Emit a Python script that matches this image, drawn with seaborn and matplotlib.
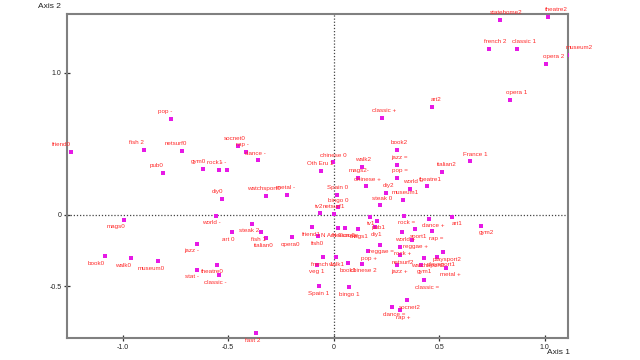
import matplotlib
matplotlib.use("Agg")
import matplotlib.pyplot as plt
import seaborn as sns
import pandas as pd

labels = [
    "statehome2", "theatre2", "french 2", "classic 1", "opera 2", "museum2",
    "opera 1", "art2", "classic +", "pop -", "friend0", "fish 2", "netsurf0",
    "pub0", "gym0", "socnet0", "rap -", "dance -", "rock -", "1 -", "diy0",
    "watchsport0", "metal -", "chinese 0", "Oth Eru 1", "walk2", "mags2-",
    "chinese +", "diy2", "book2", "jazz =", "pop =", "world =", "theatre1",
    "italian2", "France 1", "steak 0", "museum1", "Spain 0", "bingo 0", "tv2",
    "netsurf1", "N America 0", "tv1", "pub1", "rock =", "dance +", "art1",
    "gym2", "world +", "sport1", "rap =", "reggae +", "rock +", "reggae =",
    "pop +", "netsurf2", "jazz +", "gym1", "watchsport1", "playsport1",
    "playsport2", "metal +", "classic =", "socnet2", "dance =", "rap +",
    "fast 2", "Spain 1", "bingo 1", "french 1", "walk1", "veg 1", "book1",
    "chinese 2", "mags1", "diy1", "friend1", "N Europe", "opera0", "fish0",
    "mags0", "world -", "book0", "walk0", "museum0", "jazz -", "theatre0",
    "classic -", "stat -", "steak 2", "fish 1", "art 0", "italian0",
]
axis1 = [
    0.788, 1.016, 0.736, 0.869, 1.006, 1.120,
    0.836, 0.466, 0.229, -0.771, -1.245, -0.899, -0.719,
    -0.809, -0.619, -0.454, -0.416, -0.359, -0.544, -0.506, -0.529,
    -0.321, -0.221, -0.003, -0.060, 0.134, 0.115,
    0.153, 0.248, 0.300, 0.300, 0.300, 0.362, 0.442,
    0.513, 0.646, 0.219, 0.328, 0.016, 0.020, -0.065,
    0.001, 0.020, 0.172, 0.205, 0.333, 0.452, 0.561,
    0.698, 0.324, 0.385, 0.466, 0.371, 0.314, 0.219,
    0.163, 0.316, 0.300, 0.414, 0.428, 0.490,
    0.518, 0.532, 0.428, 0.347, 0.276, 0.316,
    -0.368, -0.070, 0.073, -0.051, 0.012, -0.078, 0.068,
    0.134, 0.115, 0.196, -0.103, 0.054, -0.197, -0.074,
    -0.993, -0.557, -1.083, -0.960, -0.833, -0.647, -0.553,
    -0.543, -0.647, -0.386, -0.344, -0.482, -0.321,
]
axis2 = [
    1.373, 1.394, 1.169, 1.169, 1.063, 1.127,
    0.810, 0.761, 0.683, 0.676, 0.444, 0.458, 0.451,
    0.296, 0.324, 0.486, 0.444, 0.387, 0.317, 0.317, 0.113,
    0.134, 0.141, 0.373, 0.310, 0.338, 0.261,
    0.204, 0.155, 0.458, 0.352, 0.261, 0.183, 0.204,
    0.303, 0.380, 0.070, 0.106, 0.141, 0.056, 0.014,
    0.007, -0.092, -0.014, -0.042, -0.007, -0.028, -0.014,
    -0.077, -0.120, -0.099, -0.113, -0.176, -0.225, -0.211,
    -0.254, -0.282, -0.352, -0.352, -0.303, -0.296,
    -0.261, -0.373, -0.458, -0.599, -0.648, -0.669,
    -0.831, -0.500, -0.507, -0.296, -0.296, -0.352, -0.338,
    -0.345, -0.099, -0.085, -0.085, -0.092, -0.155, -0.148,
    -0.035, -0.007, -0.289, -0.303, -0.324, -0.204, -0.352,
    -0.423, -0.387, -0.063, -0.120, -0.120, -0.162,
]
xticks = [-1.0, -0.5, 0.0, 0.5, 1.0]
xtick_labels = ["-1.0", "-0.5", "0", "0.5", "1.0"]
yticks = [1.0, 0.0, -0.5]
ytick_labels = ["1.0", "0", "-0.5"]

df = pd.DataFrame({"label": labels, "Axis 1": axis1, "Axis 2": axis2})

sns.set_theme(style="white")
plt.rcParams["font.family"] = ["Liberation Sans", "DejaVu Sans"]

fig = plt.figure(figsize=(6.4, 3.6), dpi=100)
ax = fig.add_axes([67 / 640, 22 / 360, 501 / 640, 324 / 360])

ax.axhline(0, color="#444444", lw=0.9, ls=(0, (1, 1.5)), zorder=1)
ax.axvline(0, color="#444444", lw=0.9, ls=(0, (1, 1.5)), zorder=1)

sns.scatterplot(data=df, x="Axis 1", y="Axis 2", ax=ax, marker="s",
                color="#e619e6", s=12, linewidth=0, zorder=3, legend=False)

for lab, x, y in zip(df["label"], df["Axis 1"], df["Axis 2"]):
    ax.annotate(lab, (x, y), xytext=(8 * x, 7 if y >= 0 else -7),
                textcoords="offset pixels", ha="center", va="center",
                fontsize=4.5, color="#ff2a2a", zorder=4,
                annotation_clip=False)

ax.set_xlim(-1.264, 1.110)
ax.set_ylim(-0.866, 1.415)
ax.set_xticks(xticks)
ax.set_xticklabels(xtick_labels)
ax.set_yticks(yticks)
ax.set_yticklabels(ytick_labels)
ax.set_xlabel("")
ax.set_ylabel("")
ax.tick_params(axis="both", direction="inout", length=4, width=0.9,
               color="#333333", labelsize=5, labelcolor="#222222", pad=2)
ax.tick_params(bottom=True, left=True)
for sp in ax.spines.values():
    sp.set_color("#808080")
    sp.set_linewidth(1.5)

fig.text(38 / 640, 1 - 7 / 360, "Axis 2", fontsize=6, color="#222222",
         ha="left", va="center")
fig.text(570 / 640, 1 - 353 / 360, "Axis 1", fontsize=6, color="#222222",
         ha="right", va="center")

fig.savefig("out.png", dpi=100)
